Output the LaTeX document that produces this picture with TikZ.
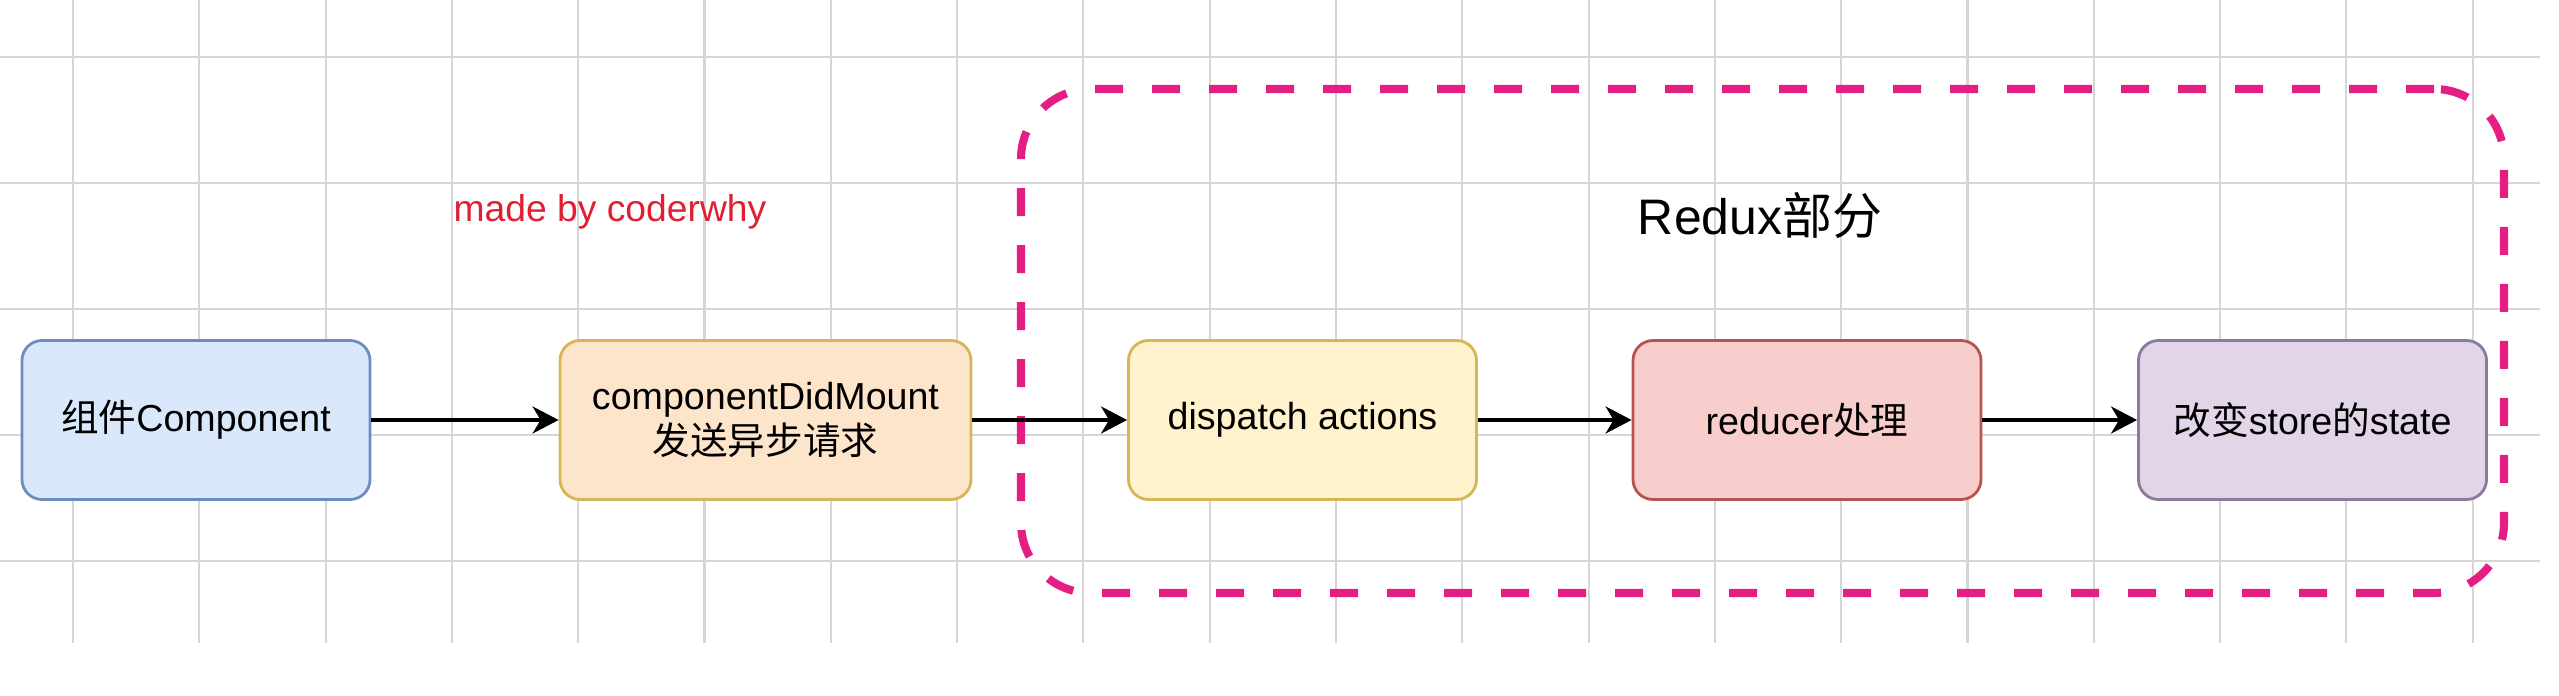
\documentclass[tikz,border=0pt]{standalone}
\usepackage{fontspec}
\setmainfont{Liberation Sans}
\newfontfamily\cjk{Noto Sans CJK SC}
\usetikzlibrary{arrows.meta, positioning}

\definecolor{bluefill}{HTML}{DAE8FC}
\definecolor{bluedraw}{HTML}{6C8EBF}
\definecolor{orangefill}{HTML}{FDE5CB}
\definecolor{yellowfill}{HTML}{FFF2CC}
\definecolor{yellowdraw}{HTML}{D6B656}
\definecolor{redfill}{HTML}{F8CECC}
\definecolor{reddraw}{HTML}{B85450}
\definecolor{purplefill}{HTML}{E1D5E7}
\definecolor{purpledraw}{HTML}{8A7A9E}
\definecolor{framepink}{RGB}{228,30,130}
\definecolor{signred}{RGB}{225,30,50}

\begin{document}
\begin{tikzpicture}[
  box/.style={draw, rounded corners=0.2cm, line width=0.8pt, minimum width=3.48cm,
    minimum height=1.59cm, align=center, font=\fontsize{10.7}{13}\selectfont},
  flow/.style={line width=1.1pt, -{Stealth[length=0.26cm,width=0.27cm,inset=0.08cm]}},
  bgline/.style={draw=black!16, line width=0.6pt},
  frame/.style={draw=framepink, line width=2.3pt, rounded corners=0.7cm,
    dash pattern=on 0.28cm off 0.29cm, minimum width=14.83cm, minimum height=5.04cm}
]
        \useasboundingbox (0,0) rectangle (25.59,6.95);
%
        \foreach \k in {0,...,19}
          \draw[bgline] ({0.73+1.263*\k},0.52) -- ({0.73+1.263*\k},6.95);
        \foreach \y in {6.38,5.12,3.86,2.60,1.34}
          \draw[bgline] (0,\y) -- (25.40,\y);
%
        \node[frame] (redux) at (17.625,3.54) {};
        \node[font=\fontsize{14.2}{17}\selectfont] (title) at (17.60,4.79) {Redux{\cjk 部分}};
        \node[text=signred, font=\fontsize{10.6}{13}\selectfont] (sign) at (6.10,4.83) {made by coderwhy};
%
        \node[box, fill=bluefill, draw=bluedraw] (comp) at (1.96,2.75) {{\cjk 组件}Component};
        \node[box, fill=orangefill, draw=yellowdraw, minimum width=4.11cm] (mount) at (7.655,2.75)
          {componentDidMount\\{\cjk 发送异步请求}};
        \node[box, fill=yellowfill, draw=yellowdraw] (dispatch) at (13.025,2.75) {dispatch actions};
        \node[box, fill=redfill, draw=reddraw] (reducer) at (18.07,2.75) {reducer{\cjk 处理}};
        \node[box, fill=purplefill, draw=purpledraw] (state) at (23.125,2.75) {{\cjk 改变}store{\cjk 的}state};
%
        \draw[flow] (comp) -- (mount);
        \draw[flow] (mount) -- (dispatch);
        \draw[flow] (dispatch) -- (reducer);
        \draw[flow] (reducer) -- (state);
\end{tikzpicture}
\end{document}
